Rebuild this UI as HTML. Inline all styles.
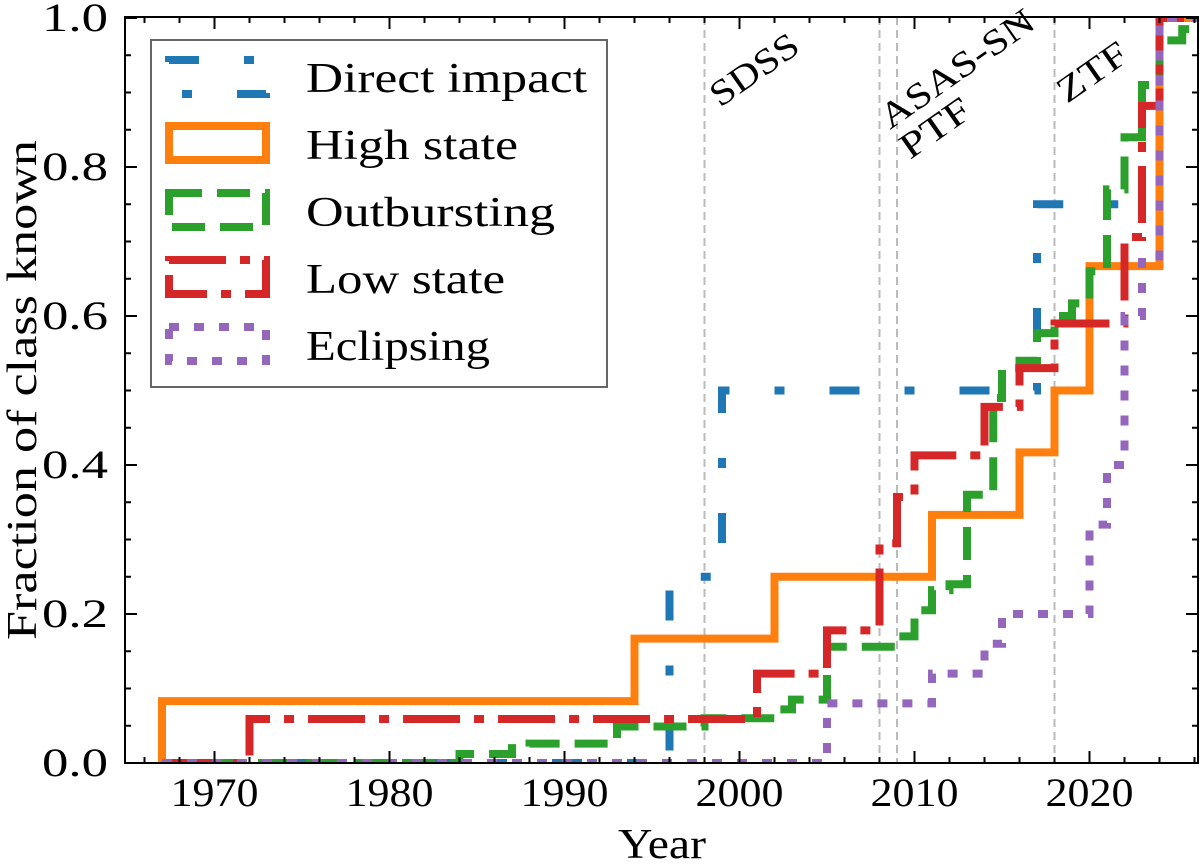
<!DOCTYPE html>
<html><head><meta charset="utf-8"><style>
body{margin:0;background:#fff}
svg text{font-family:"Liberation Serif","DejaVu Serif",serif;fill:#000}
</style></head><body>
<svg id="c" width="1200" height="863" viewBox="0 0 1200 863" xmlns="http://www.w3.org/2000/svg">
<defs><clipPath id="pc"><rect x="125" y="17" width="1073" height="746"/></clipPath></defs>
<g id="plot" clip-path="url(#pc)"></g>
<g id="axes"></g>
</svg>
<script>
const surveyYears=[1998,2008,2009,2018];
const xTicks=[1970,1980,1990,2000,2010,2020];
const yTicks=[0,0.2,0.4,0.6,0.8,1.0];
const directYears=[1967,1996,1999,2017,2024];
const directVals=[0,0.25,0.5,0.75,1.0];
const highYears=[1967,1994,2002,2011,2016,2018,2020,2024];
const highVals=[0.083,0.167,0.25,0.333,0.417,0.5,0.667,1.0];
const outYears=[1967,1984,1987,1988,1993,1998,2002,2003,2005,2009,2010,2011,2012,2013,2014.5,2015,2016,2017,2018,2019,2020,2021,2022,2023,2024,2025.3];
const outVals=[0,0.012,0.02,0.026,0.049,0.06,0.072,0.085,0.156,0.17,0.205,0.232,0.24,0.36,0.49,0.53,0.54,0.577,0.6,0.617,0.66,0.77,0.84,0.91,0.97,0.985];
const lowYears=[1967,1972,2001,2005,2008,2009,2010,2014,2016,2018,2022,2023,2024];
const lowVals=[0,0.059,0.12,0.178,0.295,0.357,0.413,0.478,0.53,0.59,0.706,0.882,1.0];
const eclYears=[1967,2005,2011,2014,2015,2020,2021,2022,2023,2024];
const eclVals=[0,0.08,0.12,0.16,0.2,0.32,0.4,0.6,0.68,1.0];

const NS='http://www.w3.org/2000/svg';
const X=y=>214.5+(y-1970)*17.5;
const Y=v=>763-745*v;
const plot=document.getElementById('plot'),axes=document.getElementById('axes');
function mk(tag,attrs,parent){const e=document.createElementNS(NS,tag);for(const k in attrs)e.setAttribute(k,attrs[k]);parent.appendChild(e);return e;}

surveyYears.forEach(yr=>{
 const l=mk('line',{x1:X(yr),x2:X(yr),y1:17,y2:763,stroke:'#bbb','stroke-width':2,'stroke-dasharray':'8,5'},plot);
 
 
});
function stepPath(xs,vs){let d='M'+X(xs[0])+','+Y(0)+' V'+Y(vs[0]);for(let i=1;i<xs.length;i++){d+=' H'+X(xs[i])+' V'+Y(vs[i]);}d+=' H'+X(2027);return d;}
const series=[
 ['direct-impact-line',directYears,directVals,'#1f77b4','30,45,10,45'],
 ['high-state-line',highYears,highVals,'#ff7f0e',''],
 ['outbursting-line',outYears,outVals,'#2ca02c','33,15'],
 ['low-state-line',lowYears,lowVals,'#d62728','57,14,10,14'],
 ['eclipsing-line',eclYears,eclVals,'#9467bd','10,15']];
series.forEach(s=>{
 const p=mk('path',{d:stepPath(s[1],s[2]),fill:'none',stroke:s[3],'stroke-width':8,'stroke-dasharray':s[4]||'none','stroke-linejoin':'miter'},plot);
 
 
});
const fr=mk('rect',{x:125,y:17,width:1073,height:746,fill:'none',stroke:'#000','stroke-width':2},axes);


for(let yr=1966;yr<=2026;yr+=2){const maj=yr%10===0,len=maj?12:6;
 mk('line',{x1:X(yr),x2:X(yr),y1:763,y2:763-len,stroke:'#000','stroke-width':2},axes);
 mk('line',{x1:X(yr),x2:X(yr),y1:17,y2:17+len,stroke:'#000','stroke-width':2},axes);}
xTicks.forEach(yr=>{const t=mk('text',{x:X(yr),y:806,'font-size':40,'text-anchor':'middle',textLength:88,lengthAdjust:'spacingAndGlyphs'},axes);t.textContent=yr;
 
 });
for(let i=0;i<=20;i++){const v=i*0.05,maj=i%4===0,len=maj?12:6;
 mk('line',{x1:125,x2:125+len,y1:Y(v),y2:Y(v),stroke:'#000','stroke-width':2},axes);
 mk('line',{x1:1198,x2:1198-len,y1:Y(v),y2:Y(v),stroke:'#000','stroke-width':2},axes);}
yTicks.forEach(v=>{const t=mk('text',{x:108,y:Y(v)+13,'font-size':40,'text-anchor':'end',textLength:66,lengthAdjust:'spacingAndGlyphs'},axes);t.textContent=v.toFixed(1);
 
 });
</script>
<svg style="position:absolute;left:0;top:0" width="1200" height="863" xmlns="http://www.w3.org/2000/svg">
<g font-family="Liberation Serif, serif" font-size="36">
<text transform="translate(720,108) rotate(-35)" textLength="100" lengthAdjust="spacingAndGlyphs">SDSS</text>
<text transform="translate(890,130) rotate(-35)" textLength="180" lengthAdjust="spacingAndGlyphs">ASAS-SN</text>
<text transform="translate(910,160) rotate(-35)" textLength="78" lengthAdjust="spacingAndGlyphs">PTF</text>
<text transform="translate(1067,104) rotate(-35)" textLength="78" lengthAdjust="spacingAndGlyphs">ZTF</text>
</g>
<text x="662" y="858" font-family="Liberation Serif, serif" font-size="42" text-anchor="middle" textLength="88" lengthAdjust="spacingAndGlyphs">Year</text>
<text transform="translate(36,390) rotate(-90)" font-family="Liberation Serif, serif" font-size="42" text-anchor="middle" textLength="500" lengthAdjust="spacingAndGlyphs">Fraction of class known</text>
<g>
<rect x="151" y="40" width="456" height="347" fill="#fff" stroke="#666" stroke-width="2"/>
<rect x="169" y="60" width="97" height="34" fill="none" stroke="#1f77b4" stroke-width="8" stroke-dasharray="30,45,10,45"/>
<rect x="169" y="126" width="97" height="34" fill="none" stroke="#ff7f0e" stroke-width="8"/>
<rect x="169" y="193" width="97" height="34" fill="none" stroke="#2ca02c" stroke-width="8" stroke-dasharray="33,15"/>
<rect x="169" y="260" width="97" height="34" fill="none" stroke="#d62728" stroke-width="8" stroke-dasharray="57,14,10,14"/>
<rect x="169" y="327" width="97" height="34" fill="none" stroke="#9467bd" stroke-width="8" stroke-dasharray="10,15"/>
<g font-family="Liberation Serif, serif" font-size="42">
<text x="306" y="92" textLength="281" lengthAdjust="spacingAndGlyphs">Direct impact</text>
<text x="306" y="159" textLength="212" lengthAdjust="spacingAndGlyphs">High state</text>
<text x="306" y="226" textLength="249" lengthAdjust="spacingAndGlyphs">Outbursting</text>
<text x="306" y="293" textLength="199" lengthAdjust="spacingAndGlyphs">Low state</text>
<text x="306" y="360" textLength="184" lengthAdjust="spacingAndGlyphs">Eclipsing</text>
</g></g>
</svg>
</body></html>
